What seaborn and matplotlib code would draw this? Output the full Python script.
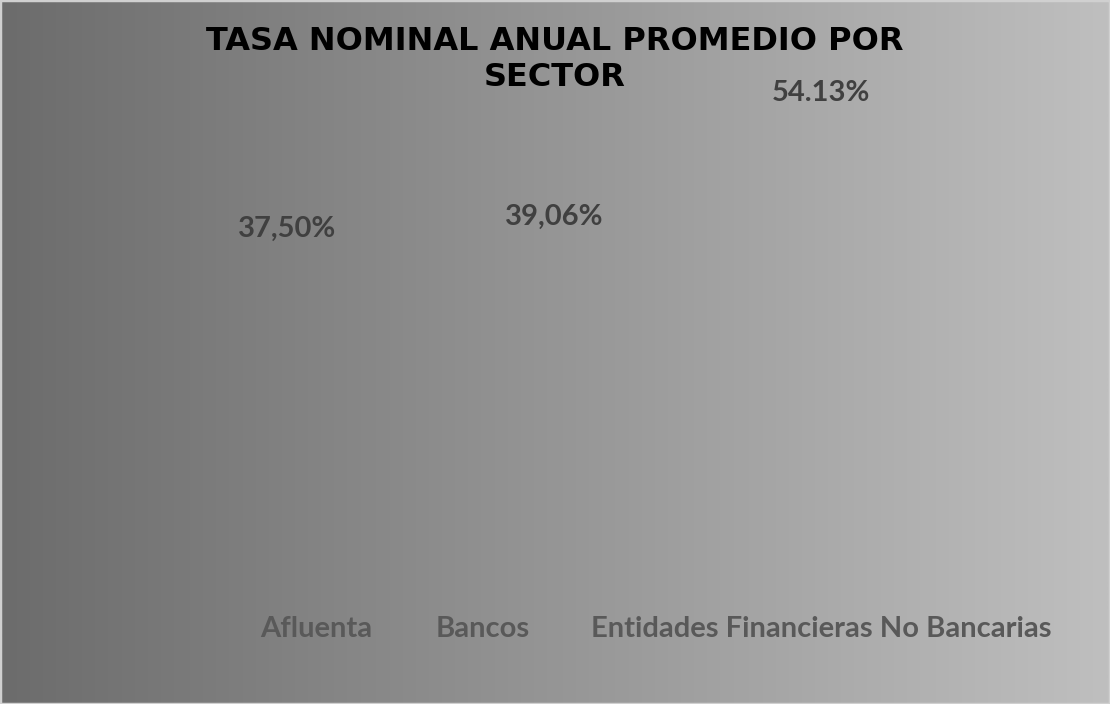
import numpy as np
import pandas as pd
import matplotlib
matplotlib.use("Agg")
import matplotlib.pyplot as plt
import matplotlib.transforms as mtransforms
from matplotlib.colors import LinearSegmentedColormap
from matplotlib.patches import Rectangle
import seaborn as sns

# datos
sectores = ["Afluenta", "Bancos", "Entidades Financieras No Bancarias"]
tasas = [37.50, 39.06, 54.13]
etiquetas = ["37,50%", "39,06%", "54.13%"]
titulo = ["TASA NOMINAL ANUAL PROMEDIO POR", "SECTOR"]

df = pd.DataFrame({"Sector": sectores, "Tasa": tasas})

sns.set_theme(style="white")
plt.rcParams["font.family"] = ["Lato", "DejaVu Sans"]

fig = plt.figure(figsize=(11.1, 7.04), dpi=100)

# fondo degradado gris
bg = fig.add_axes([0, 0, 1, 1], zorder=0)
cmap = LinearSegmentedColormap.from_list("fondo", ["#6c6c6c", "#bfbfbf"])
bg.imshow(np.linspace(0, 1, 512).reshape(1, -1), aspect="auto", cmap=cmap,
          extent=[0, 1, 0, 1])
bg.axis("off")
fig.patches.append(Rectangle((0, 0), 1, 1, transform=fig.transFigure,
                             fill=False, edgecolor="#d0d0d0", lw=2.5, zorder=5))

ax = fig.add_axes([0.1387, 0.223, 0.7216, 0.6974], zorder=1)
ax.patch.set_alpha(0)
sns.barplot(data=df, x="Sector", y="Tasa", ax=ax, color="#808080")
for p in ax.patches:
    p.set_alpha(0)

ax.bar_label(ax.containers[0], labels=etiquetas, padding=-1.5,
             fontsize=21, fontweight="bold", color="#404040")

ax.set_ylim(0, 60)
ax.set_xlabel("")
ax.set_ylabel("")
ax.set_yticks([])
sns.despine(ax=ax, left=True, bottom=True)
ax.tick_params(axis="x", length=0, pad=50, labelsize=21, labelcolor="#595959")
for lbl in ax.get_xticklabels():
    lbl.set_fontweight("bold")

# desplazamiento de etiquetas de categoria como en el original
for lbl, dx in zip(ax.get_xticklabels(), [29, -72, 0]):
    lbl.set_transform(lbl.get_transform()
                      + mtransforms.ScaledTranslation(dx / 100, 0, fig.dpi_scale_trans))

# titulo en dos lineas
for linea, yc in zip(titulo, [42, 78]):
    fig.text(0.5, 1 - yc / 704, linea, ha="center", va="center",
             fontsize=23, fontweight="bold", color="black",
             family=["DejaVu Sans"])

fig.savefig("out.png", dpi=100)
